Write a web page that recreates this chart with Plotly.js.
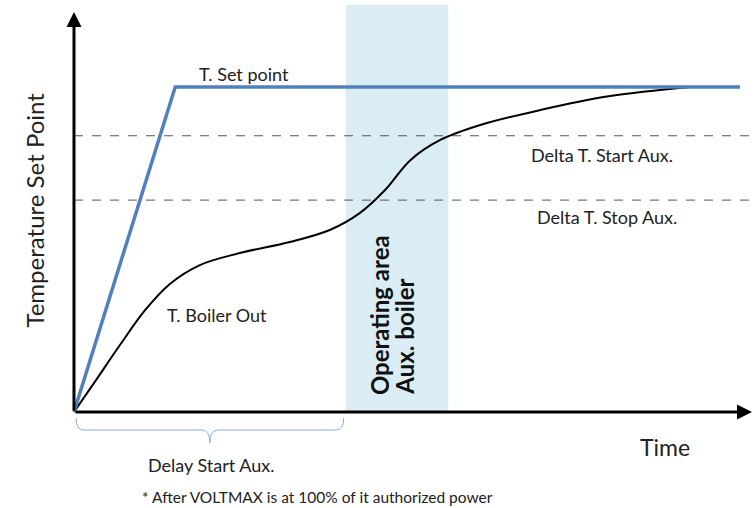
<!DOCTYPE html>
<html>
<head>
<meta charset="utf-8">
<script src="https://cdn.plot.ly/plotly-3.0.1.min.js"></script>
<style>
  body { margin: 0; background: #fff; }
  #chart { width: 755px; height: 508px; }
</style>
</head>
<body>
<div id="chart"></div>
<script>
// time runs 0..100, temperature 0..100 (set point = 100)
var setTime = [0, 15.2, 100];
var setTemp = [0, 100, 100];

var boilerTime = [0, 3.2, 6.9, 10.7, 14.4, 18.9, 24.9, 32.4, 38.4, 42.9, 46.7, 50.5, 55, 61, 70, 80.5, 92.5];
var boilerTemp = [0, 9.5, 20.6, 31.4, 39.4, 45.2, 48.9, 52.3, 56, 61.2, 68.3, 77.5, 83.7, 88.3, 92.9, 97.2, 100];

var deltaStart = 85;
var deltaStop = 65.2;
var auxArea = [40.8, 56.2];   // operating area of the aux boiler
var delayRange = [0, 40.8];   // delay before aux start

// axes ranges so the origin sits where the drawing wants it
var xRange = [-11.11, 102.25];
var yRange = [-29.54, 126.77];
var xEnd = 101.8, yEnd = 123.1;

var font = "Lato, 'Open Sans', sans-serif";

var traces = [
  {x: boilerTime, y: boilerTemp, mode: "lines", type: "scatter",
   line: {color: "#000", width: 2, shape: "spline", smoothing: 1}, hoverinfo: "skip"},
  {x: setTime, y: setTemp, mode: "lines", type: "scatter",
   line: {color: "#5181BC", width: 3.5}, hoverinfo: "skip"}
];

// brace under the delay range
var b0 = delayRange[0] + 0.3, b1 = delayRange[1] - 0.3, bm = (b0 + b1) / 2;
var bTop = -1.85, bMid = -5.54, bTip = -9.54;
var bracePath = "M " + b0 + "," + bTop + " Q " + b0 + "," + bMid + " " + (b0 + 1.2) + "," + bMid +
  " L " + (bm - 1.2) + "," + bMid + " Q " + bm + "," + bMid + " " + bm + "," + bTip +
  " Q " + bm + "," + bMid + " " + (bm + 1.2) + "," + bMid +
  " L " + (b1 - 1.2) + "," + bMid + " Q " + b1 + "," + bMid + " " + b1 + "," + bTop;

var shapes = [
  {type: "rect", layer: "below", xref: "x", yref: "y", x0: auxArea[0], x1: auxArea[1], y0: 0, y1: 125.2,
   fillcolor: "#DAEDF4", line: {width: 0}},
  {type: "line", layer: "below", xref: "x", yref: "y", x0: 0, x1: xRange[1], y0: deltaStart, y1: deltaStart,
   line: {color: "#555", width: 1, dash: "dash"}},
  {type: "line", layer: "below", xref: "x", yref: "y", x0: 0, x1: xRange[1], y0: deltaStop, y1: deltaStop,
   line: {color: "#555", width: 1, dash: "dash"}},
  {type: "path", xref: "x", yref: "y", path: bracePath, line: {color: "#8EAAD4", width: 1}}
];

function label(txt, x, y, size, extra) {
  var a = {text: txt, x: x, y: y, xref: "x", yref: "y", showarrow: false,
           font: {family: font, size: size, color: "#222"}};
  for (var k in extra) a[k] = extra[k];
  return a;
}

var boldFont = {family: font, size: 24, color: "#111"};

var annotations = [
  // axis arrows
  {x: xEnd, y: 0, ax: 0, ay: 0, axref: "x", ayref: "y", xref: "x", yref: "y", text: "",
   showarrow: true, arrowhead: 2, arrowsize: 1, arrowwidth: 3, arrowcolor: "#000", standoff: 0},
  {x: 0, y: yEnd, ax: 0, ay: 0, axref: "x", ayref: "y", xref: "x", yref: "y", text: "",
   showarrow: true, arrowhead: 2, arrowsize: 1, arrowwidth: 3, arrowcolor: "#000", standoff: 0},
  label("T. Set point", 25.5, 104, 18),
  label("Delta T. Start Aux.", 79.3, 79.1, 18),
  label("Delta T. Stop Aux.", 80.0, 60.0, 18),
  label("T. Boiler Out", 21.4, 29.7, 18),
  label("<b>Operating area</b>", 45.8, 4.6, 24, {textangle: -90, yanchor: "bottom", font: boldFont}),
  label("<b>Aux. boiler</b>", 49.5, 4.6, 24, {textangle: -90, yanchor: "bottom", font: boldFont}),
  label("Time", 88.7, -10.8, 23),
  label("Delay Start Aux.", 20.5, -16.3, 18),
  label("* After VOLTMAX is at 100% of it authorized power", 36.6, -26.2, 15.5),
  label("Temperature Set Point", -5.9, 62.2, 24, {textangle: -90})
];

var layout = {
  width: 755, height: 508,
  margin: {l: 0, r: 0, t: 0, b: 0},
  paper_bgcolor: "#fff", plot_bgcolor: "#fff",
  showlegend: false,
  xaxis: {range: xRange, visible: false, fixedrange: true},
  yaxis: {range: yRange, visible: false, fixedrange: true},
  shapes: shapes,
  annotations: annotations
};

Plotly.newPlot("chart", traces, layout, {staticPlot: true});
</script>
</body>
</html>
